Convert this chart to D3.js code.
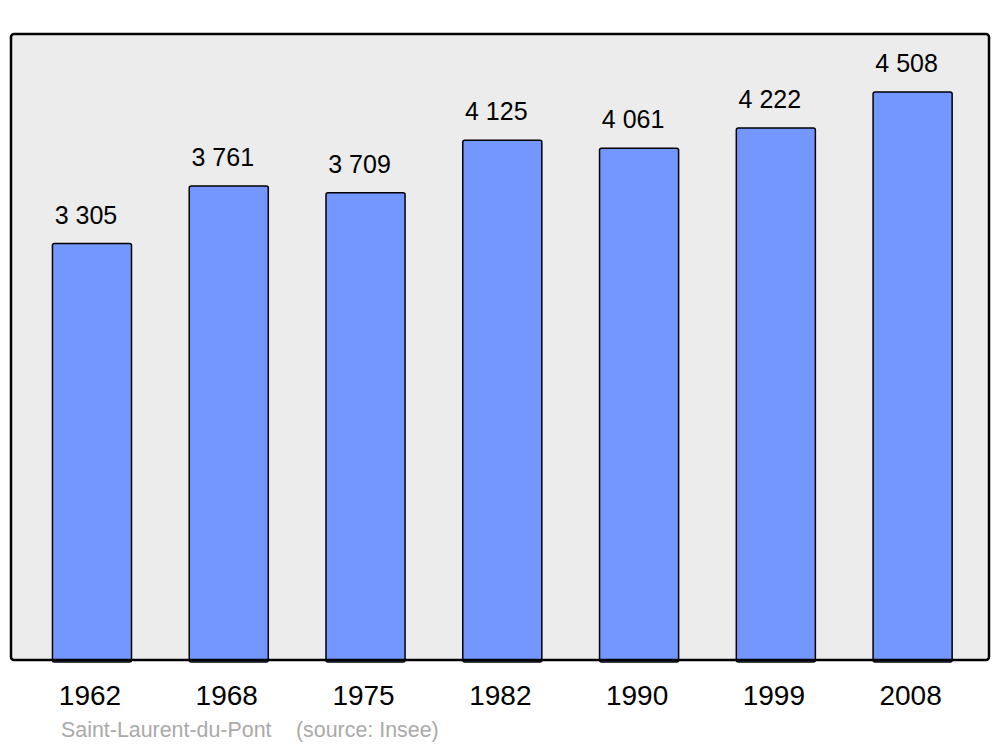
<!DOCTYPE html>
<html>
<head>
<meta charset="utf-8">
<script src="https://cdn.jsdelivr.net/npm/d3@7"></script>
<style>
  body { margin: 0; background: #fff; }
  text { font-family: "Liberation Sans", Arial, sans-serif; }
</style>
</head>
<body>
<div id="chart"></div>
<script>
var years = ["1962", "1968", "1975", "1982", "1990", "1999", "2008"];
var population = [3305, 3761, 3709, 4125, 4061, 4222, 4508];
var commune = "Saint-Laurent-du-Pont";
var source = "(source: Insee)";

var fullWidth = 1000, fullHeight = 747;
var panel = { left: 11, top: 34, right: 989, bottom: 660 };

var svg = d3.select("#chart").append("svg")
    .attr("width", fullWidth)
    .attr("height", fullHeight);

var xScale = d3.scaleBand()
    .domain(years)
    .range([23.6, 981])
    .paddingInner(0.422)
    .paddingOuter(0.211)
var yScale = d3.scaleLinear()
    .domain([0, 4968])
    .range([panel.bottom, panel.top])

// background panel
svg.append("rect")
    .attr("x", panel.left)
    .attr("y", panel.top)
    .attr("width", panel.right - panel.left)
    .attr("height", panel.bottom - panel.top)
    .attr("rx", 3)
    .style("fill", "#ececec")
    .style("stroke", "none")

var data = years.map(function (y, i) { return { year: y, value: population[i] } })

svg.selectAll("rect.bar")
    .data(data)
    .enter()
    .append("rect")
    .attr("class", "bar")
    .attr("x", function (d) { return xScale(d.year) })
    .attr("y", function (d) { return yScale(d.value) })
    .attr("width", xScale.bandwidth())
    .attr("height", function (d) { return yScale(0) - yScale(d.value) + 2 })
    .attr("rx", 2)
    .style("fill", "#7397ff")
    .style("stroke", "#000")
    .style("stroke-width", 1.5)

svg.selectAll("text.value")
    .data(data)
    .enter()
    .append("text")
    .attr("class", "value")
    .attr("x", function (d) { return xScale(d.year) + xScale.bandwidth() / 2 - 6 })
    .attr("y", function (d) { return yScale(d.value) - 20 })
    .style("text-anchor", "middle")
    .style("font-size", "25px")
    .style("fill", "#000")
    .text(function (d) { return d3.format(",")(d.value).replace(",", " ") })

// frame drawn last so its line sits over the bar bottoms
svg.append("rect")
    .attr("x", panel.left)
    .attr("y", panel.top)
    .attr("width", panel.right - panel.left)
    .attr("height", panel.bottom - panel.top)
    .attr("rx", 3)
    .style("fill", "none")
    .style("stroke", "#000")
    .style("stroke-width", 2.5)

var xAxis = d3.axisBottom(xScale).tickSize(0).tickPadding(0)
svg.append("g")
    .attr("transform", "translate(-2," + 705 + ")")
    .call(xAxis)
    .call(function (g) { g.select(".domain").remove() })
    .selectAll("text")
    .attr("dy", 0)
    .attr("y", 0)
    .style("font-size", "28px")
    .style("font-family", "'Liberation Sans', Arial, sans-serif")
    .style("fill", "#000")

svg.append("text")
    .attr("x", 61)
    .attr("y", 737)
    .style("font-size", "21.4px")
    .style("fill", "#aaaaaa")
    .text(commune)

svg.append("text")
    .attr("x", 296)
    .attr("y", 737)
    .style("font-size", "21.4px")
    .style("fill", "#aaaaaa")
    .text(source)
</script>
</body>
</html>
